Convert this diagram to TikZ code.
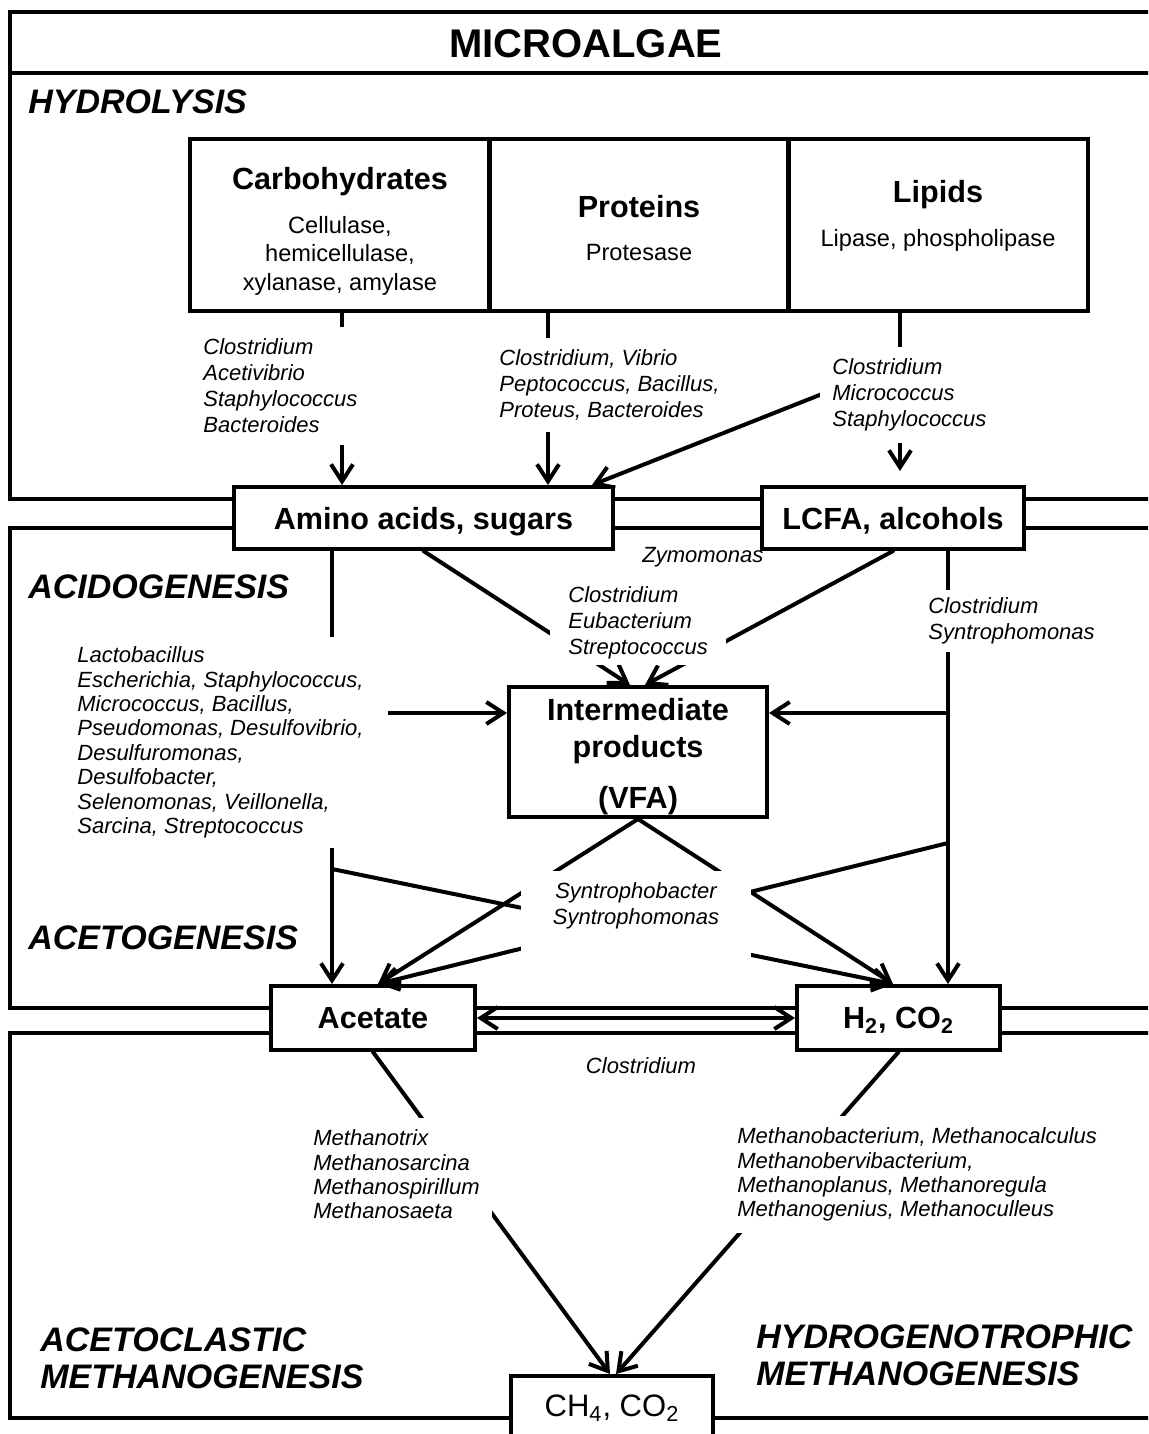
\documentclass[tikz,border=0pt]{standalone}
\usepackage{fontspec}
\setmainfont{Liberation Sans}
\usetikzlibrary{arrows.meta}

\begin{document}
\begin{tikzpicture}[line cap=round,line join=round,>={Straight Barb[length=8.5pt,width=11pt]},x=0.5pt,y=-0.5pt,
	frame/.style={line width=2pt,line cap=rect,line join=miter},
	box/.style={draw,line width=2pt,line join=miter,fill=white,align=center,font=\bfseries\fontsize{15.3}{18.5}\selectfont},
	flatbox/.style={box,text depth=0pt},
	enzbox/.style={draw,line width=2pt,line join=miter,align=center,minimum width=150pt,minimum height=86pt,font=\fontsize{11.8}{14.3}\selectfont},
	genus/.style={fill=white,anchor=west,align=left,inner sep=6pt,font=\itshape\fontsize{11}{12.2}\selectfont},
	gwide/.style={genus,font=\itshape\fontsize{11}{13}\selectfont},
	phase/.style={anchor=west,align=left,inner sep=0pt,font=\bfseries\itshape\fontsize{17}{18.5}\selectfont},
	flow/.style={line width=2pt,->}]
	\useasboundingbox (0,0) rectangle (1148,1434);
	\clip (0,0) rectangle (1148,1434);
	\draw [frame] (1160,12) -- (10,12) -- (10,499) -- (1160,499);
	\draw [frame] (10,73) -- (1160,73);
	\draw [frame] (1160,528) -- (10,528) -- (10,1008) -- (1160,1008);
	\draw [frame] (1160,1033) -- (10,1033) -- (10,1418) -- (1160,1418);
	\node [font=\bfseries\fontsize{20}{24}\selectfont] (title) at (586,44) {MICROALGAE};
	\node [phase] (hydro) at (28,102) {HYDROLYSIS};
	\node [phase] (acido) at (28,587) {ACIDOGENESIS};
	\node [phase] (aceto) at (28,938) {ACETOGENESIS};
	\node [phase] (acmeth) at (40,1358) {ACETOCLASTIC\\METHANOGENESIS};
	\node [phase] (hymeth) at (756,1355) {HYDROGENOTROPHIC\\METHANOGENESIS};
	\node [enzbox] (carb) at (340,225) {{\bfseries\fontsize{15.3}{18.5}\selectfont\rule{0pt}{17.2pt}Carbohydrates}\\[7.7pt]Cellulase,\\hemicellulase,\\xylanase, amylase};
	\node [enzbox] (prot) at (639,225) {{\bfseries\fontsize{15.3}{18.5}\selectfont\rule{0pt}{14.2pt}Proteins}\\[7.2pt]Protesase};
	\node [enzbox,text depth=11.5pt] (lipid) at (938,225) {{\bfseries\fontsize{15.3}{18.5}\selectfont Lipids}\\[7.5pt]Lipase, phospholipase};
	\node [flatbox,minimum width=189.5pt,minimum height=31pt] (amino) at (423.5,518) {Amino acids, sugars};
	\node [flatbox,minimum width=131pt,minimum height=31pt] (lcfa) at (893,518) {LCFA, alcohols};
	\node [box,inner ysep=0pt,minimum width=129pt,minimum height=65pt] (inter) at (638,752) {\rule{0pt}{16pt}Intermediate\\products\\[7pt](VFA)};
	\node [flatbox,minimum width=102pt,minimum height=32pt] (acetate) at (373,1018) {Acetate};
	\node [flatbox,minimum width=101.5pt,minimum height=32pt] (htwo) at (898.5,1018) {H\textsubscript{2}, CO\textsubscript{2}};
	\node [box,font=\fontsize{15.5}{18.5}\selectfont,minimum width=101pt,minimum height=32pt] (methane) at (612,1408) {CH\textsubscript{4}, CO\textsubscript{2}};
	\coordinate (lipmid) at (898,364);
	\coordinate (lmid) at (332,713);
	\coordinate (rmid) at (948,713);
	\coordinate (lsplit) at (332,869);
	\coordinate (rsplit) at (948,843);
	\draw [flow] (342,0 |- carb.south) -- (342,0 |- amino.north);
	\draw [flow] (548,0 |- prot.south) -- (548,0 |- amino.north);
	\draw [flow,shorten >=7pt] (900,0 |- lipid.south) -- (900,0 |- lcfa.north);
	\draw [flow] (lipmid) -- (592,0 |- amino.north);
	\draw [flow] (amino.south) -- ([xshift=-4pt]inter.north);
	\draw [flow] (lcfa.south) -- ([xshift=3.5pt]inter.north);
	\draw [flow] (332,0 |- amino.south) -- (332,0 |- acetate.north);
	\draw [flow] (lmid) -- (lmid -| inter.west);
	\draw [flow] (948,0 |- lcfa.south) -- (948,0 |- htwo.north);
	\draw [flow] (rmid) -- (rmid -| inter.east);
	\draw [flow] (lsplit) -- ([xshift=-2.75pt]htwo.north);
	\draw [flow] (rsplit) -- ([xshift=2.5pt]acetate.north);
	\draw [flow] (inter.south) -- ([xshift=2.5pt]acetate.north);
	\draw [flow] (inter.south) -- ([xshift=-2.75pt]htwo.north);
	\draw [flow,<->] (acetate.east) -- (htwo.west);
	\draw [flow] (acetate.south) -- ([xshift=-1pt]methane.north);
	\draw [flow] (htwo.south) -- ([xshift=2pt]methane.north);
	\node [gwide] (gcarb) at (191,386) {Clostridium\\Acetivibrio\\Staphylococcus\\Bacteroides};
	\node [gwide,inner xsep=1pt] (gprot) at (497,385) {Clostridium, Vibrio\\Peptococcus, Bacillus,\\Proteus, Bacteroides};
	\node [gwide] (glip) at (820,395) {Clostridium\\Micrococcus\\Staphylococcus};
	\node [genus,fill=none,inner sep=0pt] (zymo) at (642,557) {Zymomonas};
	\node [gwide,inner xsep=9pt,inner ysep=3pt] (gacid) at (550,623) {Clostridium\\Eubacterium\\Streptococcus};
	\node [gwide,inner ysep=4pt] (gsyn) at (916,621) {Clostridium\\Syntrophomonas};
	\node [genus,inner xsep=12pt,inner ysep=5pt] (glacto) at (53,742.5) {Lactobacillus\\Escherichia, Staphylococcus,\\Micrococcus, Bacillus,\\Pseudomonas, Desulfovibrio,\\Desulfuromonas,\\Desulfobacter,\\Selenomonas, Veillonella,\\Sarcina, Streptococcus};
	\node [gwide,anchor=center,align=center,inner xsep=16pt,inner ysep=6pt] (gsyntro) at (636,917) {Syntrophobacter\\Syntrophomonas\\\mbox{}};
	\node [genus,fill=none,anchor=center,inner sep=0pt] (gclos) at (641,1066) {Clostridium};
	\node [genus] (gacet) at (301,1174.5) {Methanotrix\\Methanosarcina\\Methanospirillum\\Methanosaeta};
	\node [genus] (ghyd) at (725,1174.5) {Methanobacterium, Methanocalculus\\Methanobervibacterium,\\Methanoplanus, Methanoregula\\Methanogenius, Methanoculleus};
\end{tikzpicture}
\end{document}
